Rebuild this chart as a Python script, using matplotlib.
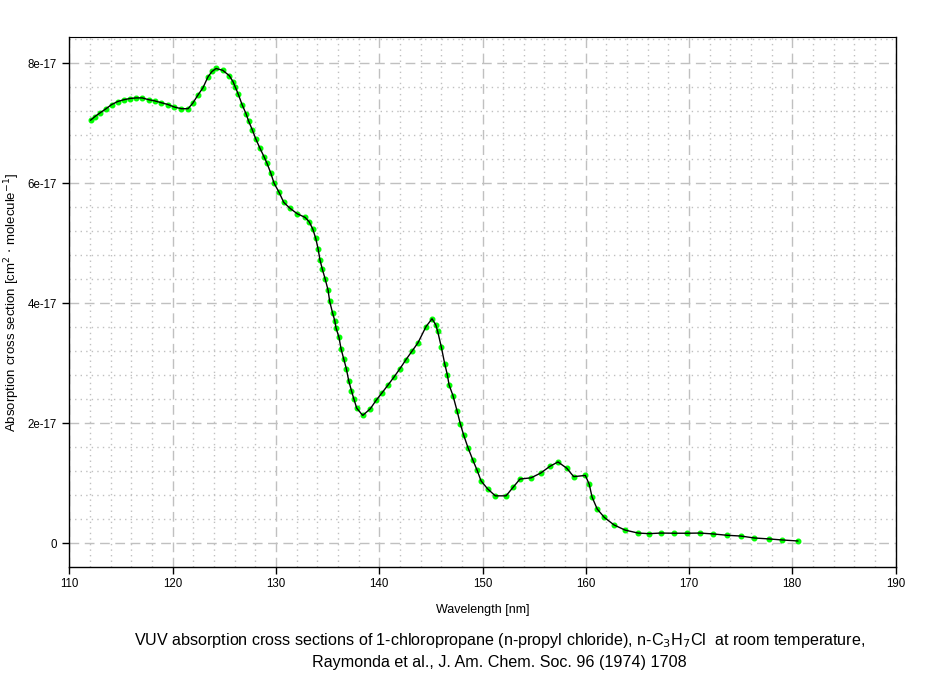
"""VUV absorption cross sections of 1-chloropropane (Raymonda et al. 1974)."""

import matplotlib
matplotlib.use("Agg")
import matplotlib.pyplot as plt
import numpy as np
from matplotlib.ticker import FixedLocator, MultipleLocator

plt.rcParams["font.family"] = ["Liberation Sans", "DejaVu Sans"]

# wavelength [nm]
wavelength = [
    112.05, 112.47, 112.95, 113.54, 114.09, 114.67, 115.28, 115.86, 116.44, 117.05,
    117.67, 118.28, 118.89, 119.54, 120.12, 120.83, 121.48, 121.93, 122.45, 122.93,
    123.41, 123.80, 124.19, 124.84, 125.48, 125.84, 126.06, 126.35, 126.71, 127.09,
    127.36, 127.70, 128.06, 128.45, 128.87, 129.13, 129.49, 129.81, 130.29, 130.75,
    131.36, 132.06, 132.81, 133.20, 133.55, 133.85, 134.07, 134.26, 134.48, 134.75,
    135.04, 135.20, 135.49, 135.69, 135.81, 136.10, 136.30, 136.56, 136.81, 137.04,
    137.31, 137.53, 137.82, 138.40, 139.13, 139.69, 140.24, 140.82, 141.43, 142.01,
    142.59, 143.17, 143.75, 144.53, 145.11, 145.47, 145.66, 146.01, 146.34, 146.59,
    146.76, 147.14, 147.53, 147.85, 148.18, 148.60, 149.08, 149.47, 149.86, 150.50,
    151.24, 152.28, 152.95, 153.63, 154.70, 155.64, 156.51, 157.31, 158.16, 158.83,
    159.96, 160.34, 160.61, 161.11, 161.80, 162.74, 163.80, 165.06, 166.13, 167.26,
    168.52, 169.78, 171.07, 172.35, 173.68, 175.03, 176.32, 177.75, 179.01, 180.53,
]

# cross section [1e-17 cm^2 / molecule]
sigma_e17 = [
    7.05, 7.11, 7.17, 7.24, 7.31, 7.36, 7.39, 7.41, 7.42, 7.42,
    7.39, 7.37, 7.34, 7.31, 7.27, 7.24, 7.24, 7.33, 7.47, 7.59,
    7.77, 7.86, 7.91, 7.88, 7.79, 7.69, 7.60, 7.48, 7.31, 7.16,
    7.03, 6.89, 6.73, 6.58, 6.43, 6.33, 6.17, 6.00, 5.85, 5.68,
    5.58, 5.49, 5.43, 5.36, 5.24, 5.08, 4.91, 4.72, 4.57, 4.41,
    4.22, 4.03, 3.83, 3.71, 3.59, 3.43, 3.24, 3.07, 2.91, 2.71,
    2.54, 2.41, 2.25, 2.13, 2.24, 2.38, 2.50, 2.63, 2.77, 2.91,
    3.06, 3.20, 3.34, 3.61, 3.74, 3.64, 3.53, 3.27, 2.99, 2.81,
    2.64, 2.46, 2.21, 1.99, 1.80, 1.59, 1.38, 1.22, 1.04, 0.905,
    0.79, 0.79, 0.93, 1.07, 1.09, 1.17, 1.28, 1.355, 1.25, 1.11,
    1.13, 0.98, 0.77, 0.57, 0.43, 0.305, 0.22, 0.17, 0.16, 0.17,
    0.167, 0.167, 0.17, 0.155, 0.133, 0.12, 0.088, 0.072, 0.055, 0.038,
]

x_ticks = [110, 120, 130, 140, 150, 160, 170, 180, 190]
y_ticks_e17 = [0, 2, 4, 6, 8]
y_tick_labels = ["0", "2e-17", "4e-17", "6e-17", "8e-17"]

sigma = np.array(sigma_e17) * 1e-17

fig = plt.figure(figsize=(9.34, 6.73), dpi=100)
ax = fig.add_axes([0.0744, 0.158, 0.8844, 0.7866])

ax.plot(wavelength, sigma, linestyle="none", marker="o", markersize=3.3,
        markerfacecolor="#00ff00", markeredgecolor="#00ff00", zorder=3)
ax.plot(wavelength, sigma, color="black", lw=1.0, zorder=4)

ax.set_xlim(110, 190)
ax.set_ylim(-0.39e-17, 8.43e-17)
ax.xaxis.set_major_locator(FixedLocator(x_ticks))
ax.xaxis.set_minor_locator(MultipleLocator(2))
ax.set_yticks([v * 1e-17 for v in y_ticks_e17], y_tick_labels)
ax.yaxis.set_minor_locator(MultipleLocator(0.4e-17))

ax.grid(which="major", color="#c0c0c0", linestyle=(0, (7, 4)), lw=1.0)
ax.grid(which="minor", color="#c0c0c0", linestyle=(0, (1, 3)), lw=1.0)
ax.set_axisbelow(True)

ax.tick_params(which="major", direction="out", length=5, width=1, labelsize=8.3,
               colors="black")
ax.tick_params(which="minor", length=0)
ax.tick_params(axis="y", pad=4)

for side in ("left", "bottom", "right"):
    ax.spines[side].set_color("black")
    ax.spines[side].set_linewidth(1.0)
ax.spines["top"].set_linestyle((0, (1, 1)))
ax.spines["top"].set_linewidth(0.8)

ax.set_xlabel("Wavelength [nm]", fontsize=9)
ax.xaxis.set_label_coords(0.5, -0.071)
ax.set_ylabel(r"Absorption cross section [cm$^2$ $\cdot$ molecule$^{-1}$]",
              fontsize=9.5, va="center")
ax.yaxis.set_label_coords(-0.0696, 0.5)

fig.text(0.535, 1 - 640 / 673,
         r"VUV absorption cross sections of 1-chloropropane (n-propyl chloride), "
         r"n-C$_3$H$_7$Cl  at room temperature,",
         ha="center", va="center", fontsize=11.6)
fig.text(0.535, 1 - 662 / 673,
         "Raymonda et al., J. Am. Chem. Soc. 96 (1974) 1708",
         ha="center", va="center", fontsize=11.6)

fig.savefig("out.png", dpi=100)
